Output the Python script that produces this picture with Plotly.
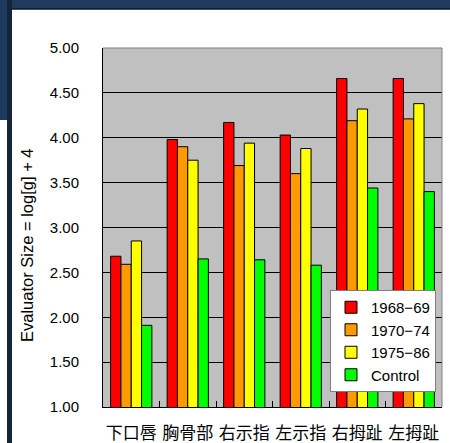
import plotly.graph_objects as go

categories = ["下口唇", "胸骨部", "右示指", "左示指", "右拇趾", "左拇趾"]
series_names = ["1968\u221269", "1970\u221274", "1975\u221286", "Control"]
v_1968 = [2.68, 3.98, 4.17, 4.03, 4.66, 4.66]
v_1970 = [2.59, 3.90, 3.69, 3.60, 4.19, 4.21]
v_1975 = [2.85, 3.75, 3.94, 3.88, 4.32, 4.38]
v_control = [1.91, 2.65, 2.64, 2.58, 3.44, 3.40]
colors = ["#FF0000", "#FF9900", "#FFFF00", "#00FF00"]
y_ticks = [1.0, 1.5, 2.0, 2.5, 3.0, 3.5, 4.0, 4.5, 5.0]
y_title = "Evaluator Size = log[g] + 4"

W, H = 450, 443
L, R, T, B = 103, 8, 48, 36
pw, ph = W - L - R, H - T - B

def px(x):
    return (x - L) / pw

def py(y):
    return (H - B - y) / ph

fig = go.Figure()
for name, vals, c in zip(series_names, [v_1968, v_1970, v_1975, v_control], colors):
    fig.add_trace(go.Bar(x=categories, y=vals, name=name,
                         marker=dict(color=c, line=dict(color="black", width=1))))

font_lat = "Liberation Sans, Arial, sans-serif"
font_cjk = "Noto Sans CJK JP, sans-serif"

fig.update_layout(
    width=W, height=H,
    margin=dict(l=L, r=R, t=T, b=B, pad=0, autoexpand=False),
    paper_bgcolor="white",
    plot_bgcolor="#C0C0C0",
    barmode="group", bargap=0.27, bargroupgap=0,
    font=dict(family=font_lat, size=14, color="black"),
    showlegend=True,
    legend=dict(x=px(330), y=py(290), xanchor="left", yanchor="top",
                bgcolor="white", bordercolor="#808080", borderwidth=1,
                font=dict(family=font_lat, size=15, color="black"),
                tracegroupgap=0, itemwidth=30),
    xaxis=dict(type="category", showline=True, linecolor="black", linewidth=1,
               ticks="inside", ticklen=6, tickcolor="black", tickson="boundaries",
               tickangle=0,
               tickfont=dict(family=font_cjk, size=17, color="black"),
               showgrid=False, ticklabelstandoff=11),
    yaxis=dict(range=[1, 5], tickvals=y_ticks, tickformat=".2f",
               showline=True, linecolor="black", linewidth=1,
               ticks="inside", ticklen=6, tickcolor="black",
               showgrid=True, gridcolor="black", gridwidth=1,
               zeroline=False, ticklabelstandoff=20,
               tickfont=dict(family=font_lat, size=15, color="black")),
    annotations=[dict(text=y_title, textangle=-90, xref="paper", yref="paper",
                      x=px(27), y=py(245), xanchor="center", yanchor="middle",
                      showarrow=False,
                      font=dict(family=font_lat, size=16.5, color="black"))],
)

shapes = [
    dict(type="line", xref="paper", yref="paper", x0=0, x1=1, y0=1, y1=1,
         line=dict(color="#808080", width=1)),
    dict(type="line", xref="paper", yref="paper", x0=1, x1=1, y0=0, y1=1,
         line=dict(color="#808080", width=1)),
    dict(type="rect", xref="paper", yref="paper", x0=px(0), x1=px(W + 2), y0=py(9), y1=py(-2),
         fillcolor="#1F3A5F", line=dict(width=0), layer="above"),
    dict(type="line", xref="paper", yref="paper", x0=px(11), x1=px(W + 2), y0=py(9), y1=py(9),
         line=dict(color="#0A1528", width=1.5), layer="above"),
    dict(type="rect", xref="paper", yref="paper", x0=px(0), x1=px(7), y0=py(120), y1=py(0),
         fillcolor="#1F3A5F", line=dict(width=0), layer="above"),
    dict(type="rect", xref="paper", yref="paper", x0=px(7), x1=px(12), y0=py(H + 2), y1=py(0),
         fillcolor="#14243A", line=dict(width=0), layer="above"),
]
fig.update_layout(shapes=shapes)

fig.write_html("out.html")
